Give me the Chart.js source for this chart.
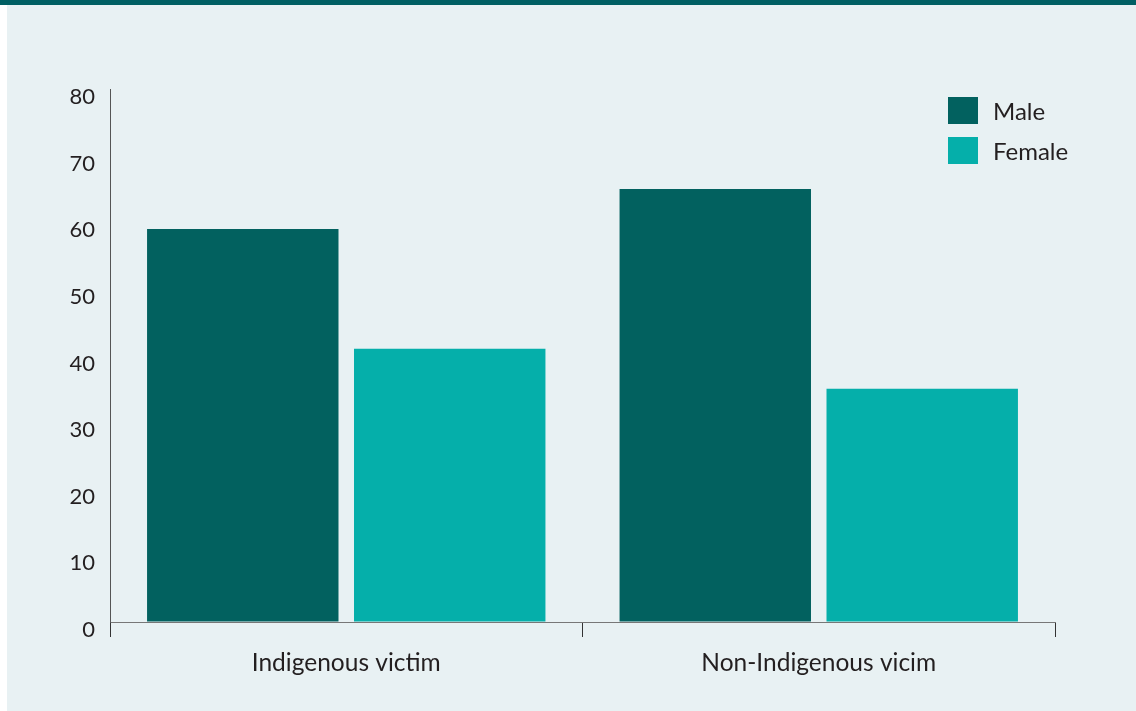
<!DOCTYPE html>
<html>
<head>
<meta charset="utf-8">
<script src="https://cdn.jsdelivr.net/npm/chart.js@4"></script>
<style>
  html, body { margin: 0; padding: 0; background: #ffffff; }
  #wrap { position: relative; width: 1136px; height: 711px; overflow: hidden; }
  #band { position: absolute; left: 0; top: 0; width: 1136px; height: 5px; background: #005f63; }
  #panel { position: absolute; left: 7px; top: 5px; width: 1129px; height: 706px; background: #e8f1f3; }
  #chart { position: absolute; left: 0; top: 0; }
  #legend { position: absolute; left: 948px; top: 97px; font-family: Lato, sans-serif; font-size: 24px; color: #231f20; }
  .item { display: flex; align-items: center; height: 27px; margin-bottom: 13px; }
  .swatch { width: 30px; height: 27px; margin-right: 15px; }
</style>
</head>
<body>
<div id="wrap">
  <div id="band"></div>
  <div id="panel"></div>
  <canvas id="chart" width="1136" height="711"></canvas>
  <div id="legend"></div>
</div>
<script>
const categories = ["Indigenous victim", "Non-Indigenous vicim"];
const maleValues = [59, 65];
const femaleValues = [41, 35];
const yTicks = [0, 10, 20, 30, 40, 50, 60, 70, 80];

const maleColor = "#02615f";
const femaleColor = "#05afaa";
const textColor = "#231f20";

const ctx = document.getElementById("chart").getContext("2d");

const chart = new Chart(ctx, {
  type: "bar",
  data: {
    labels: categories,
    datasets: [
      { label: "Male", data: maleValues, backgroundColor: maleColor },
      { label: "Female", data: femaleValues, backgroundColor: femaleColor }
    ]
  },
  options: {
    responsive: false,
    animation: false,
    categoryPercentage: 0.876,
    barPercentage: 0.925,
    layout: { padding: { top: 89, right: 81, left: 0, bottom: 0 } },
    plugins: {
      legend: { display: false },
      tooltip: { enabled: false }
    },
    scales: {
      x: {
        grid: { drawOnChartArea: false, drawTicks: true, tickLength: 15, tickColor: "#333", offset: true },
        border: { color: "#777", width: 1 },
        ticks: { color: textColor, font: { family: "Lato", size: 24.5 }, padding: 11 },
        afterFit: (axis) => { axis.height = 89; }
      },
      y: {
        min: 0,
        max: 80,
        afterBuildTicks: (axis) => { axis.ticks = yTicks.map(v => ({ value: v })); },
        grid: { drawOnChartArea: false, drawTicks: false },
        border: { color: "#555", width: 1 },
        ticks: { color: textColor, font: { family: "Lato", size: 22 }, padding: 15, labelOffset: 8 },
        afterFit: (axis) => { axis.width = 110; }
      }
    }
  }
});

// HTML legend from the datasets
const legend = document.getElementById("legend");
chart.data.datasets.forEach(ds => {
  const item = document.createElement("div");
  item.className = "item";
  item.innerHTML = `<div class="swatch" style="background:${ds.backgroundColor}"></div><span>${ds.label}</span>`;
  legend.appendChild(item);
});
</script>
</body>
</html>
